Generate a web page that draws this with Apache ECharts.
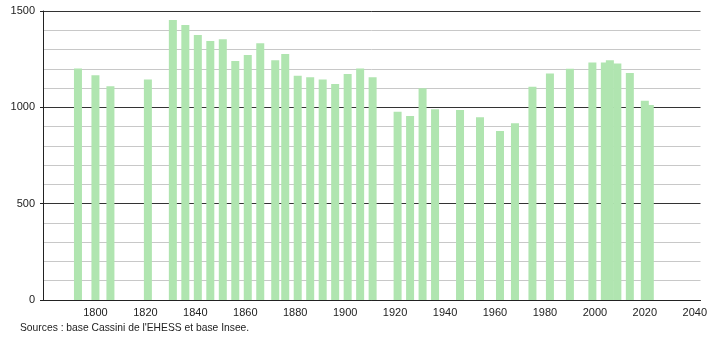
<!DOCTYPE html>
<html>
<head>
<meta charset="utf-8">
<script src="https://cdn.jsdelivr.net/npm/echarts@6/dist/echarts.min.js"></script>
<style>
html,body{margin:0;padding:0;background:#fff;}
#c{width:710px;height:340px;}
</style>
</head>
<body>
<div id="c"></div>
<script>
const years = [1793,1800,1806,1821,1831,1836,1841,1846,1851,1856,1861,1866,1872,1876,1881,1886,1891,1896,1901,1906,1911,1921,1926,1931,1936,1946,1954,1962,1968,1975,1982,1990,1999,2004,2006,2009,2014,2020,2022];
const population = [1202,1166,1109,1145,1453,1427,1375,1344,1353,1240,1271,1332,1245,1277,1164,1156,1145,1121,1173,1202,1156,977,955,1099,990,986,948,877,917,1107,1176,1200,1233,1233,1244,1228,1178,1034,1012];
const xTicks = [1800,1820,1840,1860,1880,1900,1920,1940,1960,1980,2000,2020,2040];
const yTicks = [0,500,1000,1500];
const sourceText = "Sources : base Cassini de l'EHESS et base Insee.";

const chart = echarts.init(document.getElementById('c'), null, {renderer:'canvas'});
const font = '"Liberation Sans", Arial, sans-serif';
chart.setOption({
  animation:false,
  backgroundColor:'#fff',
  grid:{left:43,right:9,top:11,bottom:40,containLabel:false},
  xAxis:{
    type:'value', min:1779, max:2042.3,
    axisLine:{show:true,lineStyle:{color:'#222',width:1}},
    axisTick:{show:false},
    splitLine:{show:false},
    axisLabel:{customValues:xTicks,formatter:v=>String(v),color:'#222',fontSize:11,fontFamily:font,margin:7}
  },
  yAxis:[{
    type:'value', min:0, max:1500, interval:100,
    axisLine:{show:true,lineStyle:{color:'#222',width:1}},
    axisTick:{show:false},
    splitLine:{show:true,lineStyle:{color:['#333','#c8c8c8','#c8c8c8','#c8c8c8','#c8c8c8'],width:1}},
    axisLabel:{formatter:v=>(yTicks.indexOf(v)>=0?String(v):''),color:'#222',fontSize:11,fontFamily:font,margin:8}
  },{
    type:'value', min:0, max:1500, position:'left',
    axisLine:{show:false},
    splitLine:{show:false},
    axisLabel:{show:false},
    axisTick:{show:true,customValues:yTicks,length:3,lineStyle:{color:'#222'}}
  }],
  series:[{
    type:'bar',
    barWidth:8,
    data:years.map((y,i)=>[y,population[i]]),
    itemStyle:{color:'#b0e5b0'},
    z:3
  }],
  graphic:[{
    type:'text', left:20, top:323,
    style:{text:sourceText,fill:'#222',font:'10.3px '+font}
  }]
});
</script>
</body>
</html>
